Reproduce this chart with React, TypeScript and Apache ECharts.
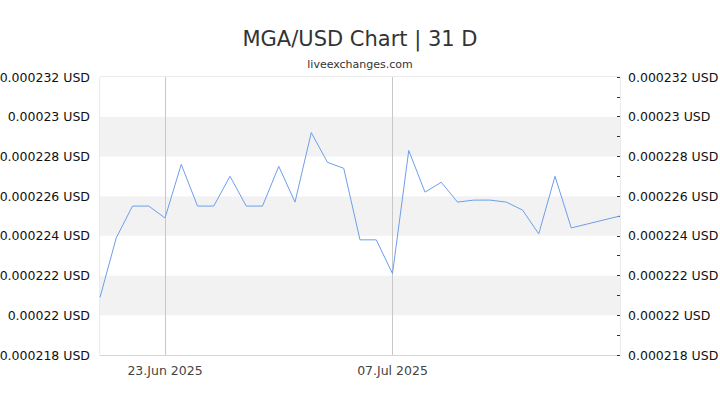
import React, { useEffect, useRef } from "react";
import * as echarts from "echarts";

const dates = [
  "19.Jun 2025", "20.Jun 2025", "21.Jun 2025", "22.Jun 2025", "23.Jun 2025",
  "24.Jun 2025", "25.Jun 2025", "26.Jun 2025", "27.Jun 2025", "28.Jun 2025",
  "29.Jun 2025", "30.Jun 2025", "01.Jul 2025", "02.Jul 2025", "03.Jul 2025",
  "04.Jul 2025", "05.Jul 2025", "06.Jul 2025", "07.Jul 2025", "08.Jul 2025",
  "09.Jul 2025", "10.Jul 2025", "11.Jul 2025", "12.Jul 2025", "13.Jul 2025",
  "14.Jul 2025", "15.Jul 2025", "16.Jul 2025", "17.Jul 2025", "18.Jul 2025",
  "19.Jul 2025", "20.Jul 2025", "21.Jul 2025",
];

const rates: (number | null)[] = [
  0.0002209, 0.0002239, 0.0002255, 0.0002255, 0.0002249,
  0.0002276, 0.0002255, 0.0002255, 0.000227, 0.0002255,
  0.0002255, 0.0002275, 0.0002257, 0.0002292, 0.0002277,
  0.0002274, 0.0002238, 0.0002238, 0.0002221, 0.0002283,
  0.0002262, 0.0002267, 0.0002257, 0.0002258, 0.0002258,
  0.0002257, 0.0002253, 0.0002241, 0.000227, 0.0002244,
  null, null, 0.000225,
];

const labeledDates = ["23.Jun 2025", "07.Jul 2025"];

const yMin = 0.000218;
const yMax = 0.000232;
const yStep = 0.000002;

const titleText = "MGA/USD Chart | 31 D";
const subText = "liveexchanges.com";

const FONT = "DejaVu Sans";

const fmt = (v: number) => Number(v.toFixed(7)).toString() + " USD";

export default function App() {
  const ref = useRef<HTMLDivElement>(null);
  useEffect(() => {
    if (!ref.current) return;
    const chart = echarts.init(ref.current, null, { renderer: "svg" });
    const idxSet = new Set(labeledDates);
    chart.setOption({
      animation: false,
      textStyle: { fontFamily: FONT },
      title: [
        {
          text: titleText,
          left: "center",
          top: 23,
          textStyle: { fontFamily: FONT, fontSize: 21, fontWeight: "normal", color: "#333" },
        },
        {
          text: subText,
          left: "center",
          top: 54,
          textStyle: { fontFamily: FONT, fontSize: 11, fontWeight: "normal", color: "#333" },
        },
      ],
      grid: {
        left: 100,
        right: 100,
        top: 77,
        bottom: 50,
        show: true,
        containLabel: false,
        outerBoundsMode: "none",
        borderColor: "#d6d6d6",
        borderWidth: 1,
      },
      xAxis: {
        type: "category",
        data: dates,
        boundaryGap: false,
        axisLine: { show: true, lineStyle: { color: "#d6d6d6" } },
        axisTick: { show: false },
        axisLabel: {
          interval: (_i: number, v: string) => idxSet.has(v),
          color: "#444",
          fontSize: 12.5,
          fontFamily: FONT,
          margin: 9,
        },
        splitLine: {
          show: true,
          interval: (_i: number, v: string) => idxSet.has(v),
          lineStyle: { color: "#c8c8c8" },
        },
      },
      yAxis: [
        {
          type: "value",
          position: "left",
          min: yMin,
          max: yMax,
          interval: yStep,
          axisLine: { show: false },
          axisTick: { show: false },
          axisLabel: { formatter: fmt, color: "#111", fontSize: 12.5, fontFamily: FONT, margin: 10 },
          splitLine: { show: false },
          splitArea: { show: true, areaStyle: { color: ["#ffffff", "#f2f2f2"] } },
        },
        {
          type: "value",
          position: "right",
          min: yMin,
          max: yMax,
          interval: yStep,
          axisLine: { show: false },
          axisTick: { show: true, inside: true, length: 3, lineStyle: { color: "#333" } },
          minorTick: { show: true, splitNumber: 2, length: 3, lineStyle: { color: "#333" } },
          axisLabel: { formatter: fmt, color: "#111", fontSize: 12.5, fontFamily: FONT, margin: 8 },
          splitLine: { show: false },
        },
      ],
      series: [
        {
          type: "line",
          data: rates,
          yAxisIndex: 0,
          connectNulls: true,
          symbol: "none",
          lineStyle: { color: "#6d9eeb", width: 1 },
        },
      ],
    });
    return () => chart.dispose();
  }, []);
  return (
    <div
      ref={ref}
      style={{ position: "fixed", left: 0, top: 0, width: 720, height: 405, background: "#fff" }}
    />
  );
}
